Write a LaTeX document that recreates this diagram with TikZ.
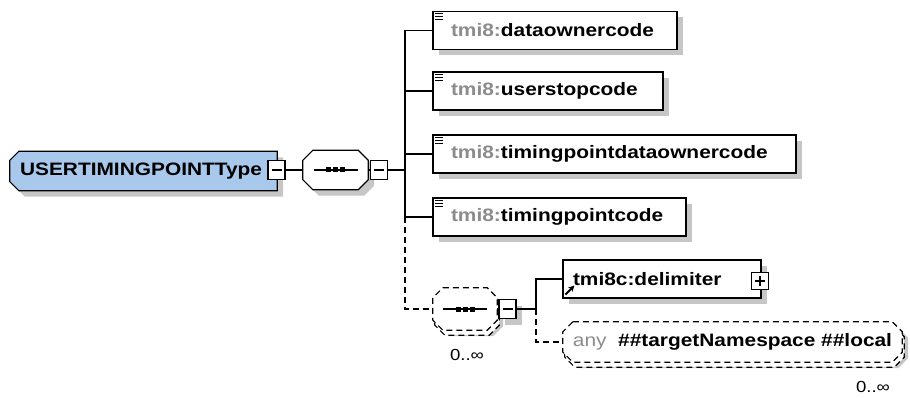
\documentclass[tikz,border=0pt]{standalone}
\usepackage{fontspec}
\setmainfont{Liberation Sans}[FakeStretch=1.16]
\usetikzlibrary{shadows,arrows.meta}

\definecolor{typeblue}{HTML}{A9C9EC}
\definecolor{nsgray}{HTML}{8C8C8C}
\definecolor{shadowgray}{HTML}{C6C6C6}

\pgfdeclarelayer{background}
\pgfsetlayers{background,main}

\tikzset{
  longdash/.style={dash pattern=on 6pt off 4pt},
  shadebox/.style={drop shadow={shadow xshift=6pt,shadow yshift=-6pt,fill=shadowgray,opacity=1}},
  stackbox/.style={general shadow={shadow xshift=2pt,shadow yshift=-5pt,draw,longdash,fill=white,line width=1.2pt}},
  label font/.style={font=\fontsize{18}{21}\selectfont},
  element/.style={draw,line width=1.2pt,fill=white,shadebox,label font,
    minimum height=38pt,inner xsep=0pt,inner ysep=0pt,align=left},
  holder/.style={inner sep=0pt,label font},
  outline/.style={draw,line width=1.2pt,fill=white,shadebox},
  toggle/.style={draw,line width=1.2pt,fill=white,minimum width=17pt,minimum height=19pt,inner sep=0pt},
  wire/.style={line width=1.2pt},
  optwire/.style={line width=1.2pt,longdash},
  mult/.style={font=\fontsize{16}{18}\selectfont}
}

% cut-corner outline behind a node: [style]{node}{left cut}{right cut}
\newcommand{\cutbox}[4][]{%
  \begin{pgfonlayer}{background}
  \path [outline,#1] ([xshift=#3]#2.north west) -- ([xshift=-#4]#2.north east)
    -- ([yshift=-#4]#2.north east) -- ([yshift=#4]#2.south east)
    -- ([xshift=-#4]#2.south east) -- ([xshift=#3]#2.south west)
    -- ([yshift=#3]#2.south west) -- ([yshift=-#3]#2.north west) -- cycle;
  \end{pgfonlayer}}
% element icon and compositor mark
\newcommand{\elicon}[1]{%
  \foreach \d in {3,6,9} {\draw [line width=0.9pt] ([xshift=3pt,yshift=-\d pt]#1.north west) -- ++(8,0);}}
\newcommand{\seqmark}[1]{%
  \draw [line width=1.2pt] ([xshift=-22pt]#1.center) -- ([xshift=22pt]#1.center);
  \foreach \s in {-7,0,7} {\fill ([xshift=\s pt]#1.center) +(-2.5,-2.5) rectangle +(2.5,2.5);}}
\newcommand{\minusmark}[1]{%
  \draw [line width=1.2pt] ([xshift=-5pt]#1.center) -- ([xshift=5pt]#1.center);}
\newcommand{\plusmark}[1]{%
  \minusmark{#1}
  \draw [line width=1.2pt] ([yshift=-5pt]#1.center) -- ([yshift=5pt]#1.center);}
\newcommand{\ns}{\textcolor{nsgray}{tmi8:}}

\begin{document}
\begin{tikzpicture}[x=1pt,y=-1pt]
    \useasboundingbox (0,0) rectangle (910,398);

    % Complex type
    \node [holder, text width=267pt, minimum height=39pt, align=left] (type) at (143.5,171)
          {\hspace*{10pt}\bfseries USERTIMINGPOINTType};
    \cutbox[fill=typeblue]{type}{9pt}{0pt}
    \node [toggle] (tgtype) at (276.5,170) {};
    \minusmark{tgtype}

    % First sequence
    \node [holder, minimum width=65pt, minimum height=39pt] (seqa) at (335.5,170) {};
    \cutbox{seqa}{10pt}{10pt}
    \seqmark{seqa}
    \node [toggle] (tgseqa) at (379,170) {};
    \minusmark{tgseqa}
    \coordinate (fork) at (405,170);

    % Child elements
    \node [element, text width=244pt] (owner) at (555,30.5) {\hspace*{18pt}\bfseries\ns dataownercode};
    \node [element, text width=230pt] (userstop) at (548,91) {\hspace*{18pt}\bfseries\ns userstopcode};
    \node [element, text width=363pt] (tpowner) at (614.5,154) {\hspace*{18pt}\bfseries\ns timingpointdataownercode};
    \node [element, text width=253pt] (tpcode) at (559.5,217) {\hspace*{18pt}\bfseries\ns timingpointcode};
    \foreach \e in {owner,userstop,tpowner,tpcode} {\elicon{\e}}

    % Optional sequence
    \node [holder, minimum width=64pt, minimum height=42pt] (seqb) at (465,309) {};
    \cutbox[longdash,stackbox]{seqb}{10pt}{10pt}
    \seqmark{seqb}
    \node [toggle, shadebox] (tgseqb) at (507.5,309) {};
    \minusmark{tgseqb}
    \node [mult] (multb) at (467,355) {0..∞};
    \coordinate (forkb) at (536,309);

    % Reference and wildcard
    \node [element, text width=198pt] (delim) at (662,279) {\hspace*{10pt}\bfseries tmi8c:delimiter};
    \draw [-{Stealth[length=6pt,width=6pt]}, line width=2pt] ([xshift=3pt,yshift=4pt]delim.south west) -- ++(9,-9);
    \node [toggle, minimum height=17pt] (tgdelim) at (760,281) {};
    \plusmark{tgdelim}
    \node [holder, minimum width=339pt, minimum height=40pt] (any) at (732.5,342)
          {\textcolor{nsgray}{any}\ \ \bfseries\#\#targetNamespace \#\#local};
    \cutbox[longdash,stackbox]{any}{10pt}{10pt}
    \node [mult] (multany) at (873,387) {0..∞};

    % Connectors
    \draw [wire] (tgtype.east) -- (seqa.west);
    \draw [wire] (seqa.east) -- (tgseqa.west);
    \draw [wire] (tgseqa.east) -- (fork);
    \foreach \e in {owner,userstop,tpowner,tpcode} {\draw [wire] (fork) |- (\e.west);}
    \draw [optwire] (fork |- tpcode.west) |- (seqb.west);
    \draw [wire] (seqb.east) -- (tgseqb.west);
    \draw [wire] (tgseqb.east) -- (forkb);
    \draw [wire] (forkb) |- (delim.west);
    \draw [optwire] (forkb) |- (any.west);
\end{tikzpicture}
\end{document}
